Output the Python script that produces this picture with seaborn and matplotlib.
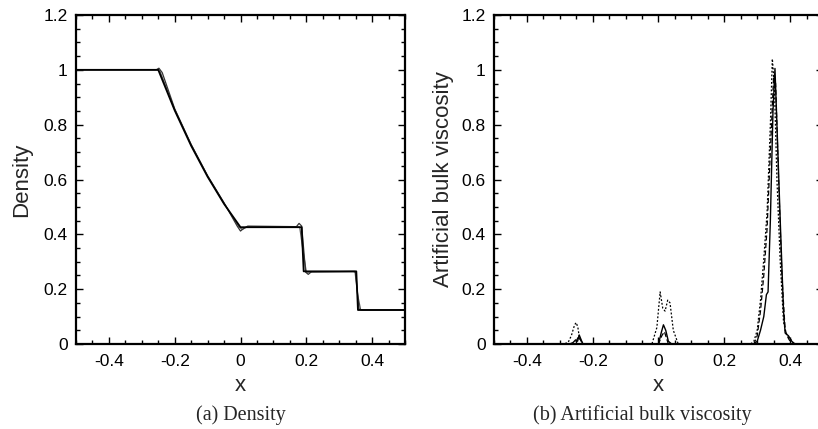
import numpy as np
import pandas as pd
import matplotlib
matplotlib.use("Agg")
import matplotlib.pyplot as plt
from matplotlib.ticker import MultipleLocator
import seaborn as sns

# ---- Density panel data ----
dens_exact_x = [-0.5, -0.25, -0.2, -0.15, -0.1, -0.05, 0.0, 0.186, 0.192, 0.352, 0.357, 0.5]
dens_exact_y = [1.0, 1.0, 0.852, 0.723, 0.610, 0.511, 0.426, 0.426, 0.265, 0.265, 0.124, 0.124]

dens_num_x = [-0.5, -0.256, -0.248, -0.238, -0.2, -0.15, -0.1, -0.05, -0.01, 0.0, 0.01, 0.022,
              0.17, 0.178, 0.186, 0.198, 0.206, 0.216, 0.343, 0.35, 0.36, 0.37, 0.5]
dens_num_y = [1.0, 1.0, 1.006, 0.99, 0.858, 0.728, 0.614, 0.515, 0.43, 0.412, 0.422, 0.43,
              0.428, 0.44, 0.43, 0.262, 0.254, 0.264, 0.264, 0.262, 0.127, 0.124, 0.124]

dens_num2_x = [-0.5, -0.254, -0.245, -0.2, -0.15, -0.1, -0.05, -0.005, 0.005, 0.02,
               0.18, 0.19, 0.2, 0.348, 0.356, 0.365, 0.5]
dens_num2_y = [1.0, 1.0, 0.995, 0.855, 0.726, 0.612, 0.513, 0.428, 0.418, 0.427,
               0.427, 0.34, 0.262, 0.265, 0.18, 0.125, 0.125]

# ---- Artificial bulk viscosity panel data ----
q_solid_x = [-0.5, -0.27, -0.26, -0.252, -0.246, -0.241, -0.235, -0.23, 0.0, 0.008, 0.015, 0.022,
             0.03, 0.04, 0.29, 0.30, 0.31, 0.32, 0.328, 0.333, 0.34, 0.348, 0.354, 0.36, 0.37,
             0.38, 0.385, 0.395, 0.405, 0.415, 0.5]
q_solid_y = [0.0, 0.0, 0.005, 0.015, 0.01, 0.033, 0.015, 0.0, 0.0, 0.04, 0.07, 0.05,
             0.01, 0.0, 0.0, 0.01, 0.05, 0.10, 0.18, 0.19, 0.45, 0.85, 1.005, 0.8, 0.45,
             0.12, 0.04, 0.03, 0.01, 0.0, 0.0]

q_dash_x = [-0.5, -0.26, -0.25, -0.243, -0.235, -0.23, 0.0, 0.01, 0.018, 0.03, 0.29, 0.30,
            0.31, 0.32, 0.33, 0.34, 0.35, 0.356, 0.365, 0.375, 0.385, 0.395, 0.405, 0.5]
q_dash_y = [0.0, 0.0, 0.01, 0.028, 0.01, 0.0, 0.0, 0.03, 0.045, 0.0, 0.0, 0.03,
            0.12, 0.25, 0.42, 0.7, 0.98, 0.95, 0.6, 0.25, 0.05, 0.02, 0.0, 0.0]

q_dot_x = [-0.5, -0.29, -0.275, -0.265, -0.255, -0.25, -0.245, -0.24, -0.23, -0.22, -0.02,
           -0.005, 0.005, 0.013, 0.02, 0.028, 0.035, 0.045, 0.06, 0.28, 0.29, 0.30, 0.31,
           0.32, 0.33, 0.34, 0.346, 0.352, 0.36, 0.37, 0.38, 0.39, 0.40, 0.41, 0.5]
q_dot_y = [0.0, 0.0, 0.005, 0.03, 0.07, 0.078, 0.06, 0.02, 0.003, 0.0, 0.0,
           0.06, 0.19, 0.13, 0.12, 0.16, 0.15, 0.05, 0.0, 0.0, 0.01, 0.05, 0.16,
           0.31, 0.48, 0.8, 1.04, 0.95, 0.6, 0.3, 0.08, 0.03, 0.02, 0.0, 0.0]

x_ticks = [-0.4, -0.2, 0, 0.2, 0.4]
y_ticks = [0, 0.2, 0.4, 0.6, 0.8, 1, 1.2]
x_ticklabels = ["-0.4", "-0.2", "0", "0.2", "0.4"]
y_ticklabels = ["0", "0.2", "0.4", "0.6", "0.8", "1", "1.2"]

sns.set_style("ticks")
plt.rcParams["font.family"] = ["Liberation Sans", "DejaVu Sans"]

W, H = 818, 429
fig = plt.figure(figsize=(W / 100, H / 100), dpi=100)
ax1 = fig.add_axes([76 / W, (H - 344) / H, 329 / W, 329 / H])
ax2 = fig.add_axes([494 / W, (H - 344) / H, 329 / W, 329 / H])

def draw(ax, x, y, **kw):
    df = pd.DataFrame({"x": x, "y": y})
    sns.lineplot(data=df, x="x", y="y", ax=ax, sort=False, estimator=None, **kw)

draw(ax1, dens_num2_x, dens_num2_y, color="#555555", lw=0.9)
draw(ax1, dens_num_x, dens_num_y, color="#333333", lw=0.9)
draw(ax1, dens_exact_x, dens_exact_y, color="black", lw=1.3)

draw(ax2, q_dot_x, q_dot_y, color="black", lw=0.9, linestyle=(0, (1.5, 1.5)))
draw(ax2, q_dash_x, q_dash_y, color="black", lw=0.9, linestyle=(0, (4, 2)))
draw(ax2, q_solid_x, q_solid_y, color="black", lw=1.0)

for ax in (ax1, ax2):
    ax.set_xlim(-0.5, 0.5)
    ax.set_ylim(0, 1.2)
    ax.set_xticks(x_ticks)
    ax.set_xticklabels(x_ticklabels)
    ax.set_yticks(y_ticks)
    ax.set_yticklabels(y_ticklabels)
    ax.xaxis.set_minor_locator(MultipleLocator(0.05))
    ax.yaxis.set_minor_locator(MultipleLocator(0.05))
    ax.tick_params(which="both", direction="in", top=True, right=True, width=1.0,
                   labelsize=12.5, colors="black", pad=6)
    ax.tick_params(axis="x", which="major", pad=7.5)
    ax.tick_params(which="major", length=5)
    ax.tick_params(which="minor", length=3)
    for s in ax.spines.values():
        s.set_linewidth(1.6)
        s.set_color("black")
        s.set_visible(True)
    ax.set_xlabel("x", fontsize=16, labelpad=4)

ax1.set_ylabel("Density", fontsize=16, labelpad=8)
ax2.set_ylabel("Artificial bulk viscosity", fontsize=16, labelpad=5)

fig.text(241 / W, 1 - 415 / H, "(a) Density", ha="center", va="center",
         fontsize=14.5, family=["Liberation Serif", "DejaVu Serif"])
fig.text(642 / W, 1 - 415 / H, "(b) Artificial bulk viscosity", ha="center", va="center",
         fontsize=14.5, family=["Liberation Serif", "DejaVu Serif"])

fig.savefig("out.png", dpi=100)
